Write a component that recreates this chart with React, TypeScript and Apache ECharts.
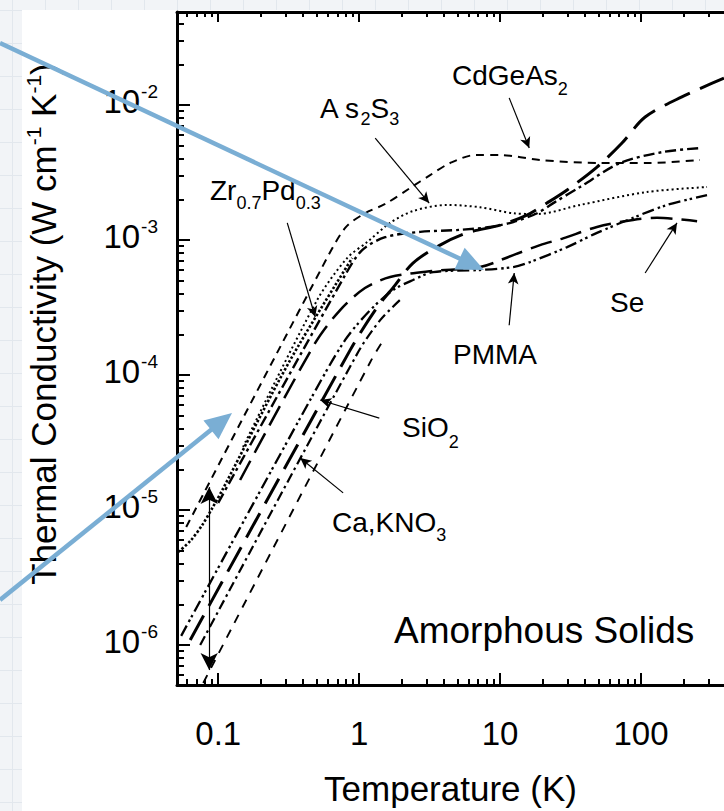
import React, { useEffect, useRef } from 'react';
import * as echarts from 'echarts';

const W = 724;
const H = 811;
const FONT = '"Liberation Sans", Arial, Helvetica, sans-serif';
const BLUE = '#7aaed4';

// Axis extents (temperature in K, conductivity in W cm^-1 K^-1)
const T_MIN = 0.051;
const T_MAX = 388;
const K_MIN = 5.06e-7;
const K_MAX = 0.0489;

const xTickValues = [0.1, 1, 10, 100];
const xTickLabels = ['0.1', '1', '10', '100'];
const yTickValues = [1e-6, 1e-5, 1e-4, 1e-3, 1e-2];
const yTickExponents = ['-6', '-5', '-4', '-3', '-2'];

// Curves: [T (K), kappa (W/cm K)]
const cdGeAs2: [number, number][] = [
  [0.0593, 7.48e-6], [0.547, 6.31e-4], [0.796, 1.23e-3], [1.10, 1.58e-3], [1.53, 1.85e-3],
  [2.30, 2.43e-3], [3.19, 3.03e-3], [4.42, 3.72e-3], [6.65, 4.26e-3], [10, 4.26e-3],
  [19.2, 3.92e-3], [51.2, 3.72e-3], [116, 3.72e-3], [262, 3.92e-3],
];
const as2S3: [number, number][] = [
  [0.150, 2.93e-5], [0.504, 3.60e-4], [0.822, 7.36e-4], [1.14, 9.66e-4], [1.66, 1.34e-3],
  [2.41, 1.64e-3], [4.21, 1.82e-3], [7.21, 1.75e-3], [12.4, 1.58e-3], [18.3, 1.56e-3],
  [36.9, 1.82e-3], [110, 2.27e-3], [294, 2.47e-3],
];
const zrPd: [number, number][] = [
  [0.0520, 4.89e-6], [0.0633, 5.89e-6], [0.0770, 7.74e-6], [0.0906, 1.03e-5], [0.107, 1.41e-5],
  [0.324, 1.29e-4], [0.892, 7.36e-4],
];
const glassA: [number, number][] = [
  [0.100, 1.13e-5], [0.796, 5.51e-4], [1.05, 8.43e-4], [1.53, 1.05e-3], [2.71, 1.15e-3],
  [5.20, 1.19e-3], [8.49, 1.25e-3], [12.4, 1.36e-3], [18.3, 1.58e-3], [24.5, 1.91e-3],
  [36.9, 2.47e-3], [71.0, 3.72e-3], [143, 4.49e-3], [262, 4.80e-3],
];
const se: [number, number][] = [
  [0.143, 1.67e-5], [0.488, 1.73e-4], [0.733, 3.03e-4], [1.10, 4.41e-4], [1.66, 5.32e-4],
  [3.29, 5.89e-4], [7.21, 6.31e-4], [12.4, 7.74e-4], [19.2, 9.18e-4], [28.0, 1.03e-3],
  [48.7, 1.25e-3], [87.7, 1.41e-3], [130, 1.46e-3], [250, 1.38e-3],
];
const siO2: [number, number][] = [
  [0.0633, 1.09e-6], [0.863, 1.53e-4], [1.30, 3.03e-4], [1.80, 4.64e-4], [2.41, 6.76e-4],
  [3.75, 9.18e-4], [5.83, 1.13e-3], [10, 1.29e-3], [15.5, 1.53e-3], [21.5, 1.88e-3],
  [29.9, 2.35e-3], [48.7, 3.47e-3], [73.3, 5.23e-3], [107, 8.15e-3], [195, 1.15e-2],
  [388, 1.58e-2],
];
const pmma: [number, number][] = [
  [0.0546, 1.17e-6], [0.449, 6.53e-5], [0.796, 1.82e-4], [1.20, 3.03e-4], [1.74, 4.26e-4],
  [2.41, 5.06e-4], [3.35, 5.79e-4], [7.21, 6.0e-4], [12.4, 6.31e-4], [16.3, 6.87e-4],
  [29.9, 8.87e-4], [48.7, 1.13e-3], [87.7, 1.46e-3], [153, 1.82e-3], [294, 2.15e-3],
];
const caKNO3: [number, number][] = [
  [0.0745, 1.0e-6], [0.984, 1.48e-4], [1.41, 2.55e-4], [1.95, 3.60e-4],
];
const glassB: [number, number][] = [
  [0.0783, 5.24e-7], [1.20, 1.25e-4], [1.53, 1.91e-4],
];

// Leader arrows (data coordinates): from -> to (arrowhead at "to")
const leaderFrom: [number, number][] = [
  [11.6, 1.13e-2], [1.30, 5.7e-3], [0.309, 1.34e-3], [11.6, 2.34e-4],
  [107, 5.7e-4], [1.39, 4.8e-5], [0.770, 1.34e-5],
];
const leaderTo: [number, number][] = [
  [16.1, 4.8e-3], [3.14, 1.88e-3], [0.488, 2.69e-4], [12.6, 5.7e-4],
  [180, 1.34e-3], [0.529, 6.53e-5], [0.382, 2.43e-5],
];
const rangeArrowT = 0.0863;
const rangeArrowK: [number, number] = [1.48e-5, 6.53e-7];

function minorValues(min: number, max: number): number[] {
  const out: number[] = [];
  for (let e = -8; e <= 3; e++) {
    for (let m = 2; m <= 9; m++) {
      const v = m * Math.pow(10, e);
      if (v > min && v < max) out.push(v);
    }
  }
  return out;
}

function blueArrow(x1: number, y1: number, x2: number, y2: number) {
  const dx = x2 - x1;
  const dy = y2 - y1;
  const len = Math.hypot(dx, dy);
  const ux = dx / len;
  const uy = dy / len;
  const hl = 27;
  const hw = 12;
  const bx = x2 - ux * hl;
  const by = y2 - uy * hl;
  return {
    type: 'group',
    silent: true,
    children: [
      { type: 'line', z: 100, shape: { x1, y1, x2: bx + ux * 3, y2: by + uy * 3 }, style: { stroke: BLUE, lineWidth: 4.5 } },
      {
        type: 'polygon',
        z: 100,
        shape: { points: [[x2, y2], [bx - uy * hw, by + ux * hw], [bx + uy * hw, by - ux * hw]] },
        style: { fill: BLUE },
      },
    ],
  };
}

function subText(x: number, y: number, text: string, size = 28, subSize = 18, drop = 13) {
  return {
    type: 'text',
    z: 50,
    silent: true,
    x,
    y,
    style: {
      text,
      fontFamily: FONT,
      fontSize: size,
      fill: '#000',
      align: 'left',
      verticalAlign: 'middle',
      rich: {
        b: { fontSize: size, fontFamily: FONT, fill: '#000' },
        s: { fontSize: subSize, fontFamily: FONT, fill: '#000', padding: [drop * 2, 0, 0, 0] },
      },
    },
  };
}

export default function App() {
  const ref = useRef<HTMLDivElement>(null);

  useEffect(() => {
    if (!ref.current) return;
    const chart = echarts.init(ref.current, null, { renderer: 'svg', width: W, height: H });

    const xMinor = minorValues(T_MIN, T_MAX);
    const yMinor = minorValues(K_MIN, K_MAX);

    const xLabel = (v: number) => {
      const i = xTickValues.findIndex((t) => Math.abs(Math.log10(t) - Math.log10(v)) < 1e-6);
      return i >= 0 ? xTickLabels[i] : '';
    };
    const yLabel = (v: number) => {
      const i = yTickValues.findIndex((t) => Math.abs(Math.log10(t) - Math.log10(v)) < 1e-6);
      return i >= 0 ? `{b|10}{s|${yTickExponents[i]}}` : '';
    };

    const black = '#000';
    const baseX = {
      type: 'log',
      logBase: 10,
      min: T_MIN,
      max: T_MAX,
      splitLine: { show: false },
      minorTick: { show: false },
      minorSplitLine: { show: false },
    };
    const baseY = {
      type: 'log',
      logBase: 10,
      min: K_MIN,
      max: K_MAX,
      splitLine: { show: false },
      minorTick: { show: false },
      minorSplitLine: { show: false },
    };

    const curveDefs = [
      { name: 'CdGeAs2', data: cdGeAs2, width: 2, dash: [8, 6] },
      { name: 'As2S3', data: as2S3, width: 2, dash: [2, 3] },
      { name: 'Zr0.7Pd0.3', data: zrPd, width: 2.6, dash: [2.5, 2] },
      { name: 'glass A', data: glassA, width: 2.4, dash: [11, 4, 3, 4] },
      { name: 'Se', data: se, width: 2.5, dash: [22, 9] },
      { name: 'SiO2', data: siO2, width: 3, dash: [28, 11] },
      { name: 'PMMA', data: pmma, width: 2.3, dash: [12, 4, 2.5, 3, 2.5, 4] },
      { name: 'Ca,KNO3', data: caKNO3, width: 2.2, dash: [10, 4, 2.5, 4] },
      { name: 'glass B', data: glassB, width: 1.9, dash: [9, 8] },
    ];

    const series: any[] = curveDefs.map((c) => ({
      type: 'line',
      name: c.name,
      data: c.data,
      xAxisIndex: 0,
      yAxisIndex: 0,
      showSymbol: false,
      symbol: 'none',
      smooth: 0.3,
      silent: true,
      lineStyle: { color: black, width: c.width, type: c.dash },
      z: 3,
    }));

    const leaderData: any[] = leaderFrom.map((f, i) => [
      { coord: f, symbol: 'none' },
      { coord: leaderTo[i], symbol: 'arrow', symbolSize: [8, 11] },
    ]);
    leaderData.push([
      { coord: [rangeArrowT, rangeArrowK[0]], symbol: 'arrow', symbolSize: [13, 17] },
      { coord: [rangeArrowT, rangeArrowK[1]], symbol: 'arrow', symbolSize: [13, 17] },
    ]);

    series.push({
      type: 'line',
      name: 'annotations',
      data: [],
      xAxisIndex: 0,
      yAxisIndex: 0,
      silent: true,
      markLine: {
        silent: true,
        animation: false,
        symbol: ['none', 'arrow'],
        lineStyle: { color: black, width: 1.2, type: 'solid' },
        label: { show: false },
        emphasis: { disabled: true },
        data: leaderData,
      },
    });

    const option: any = {
      animation: false,
      backgroundColor: 'transparent',
      grid: { left: 177, top: 12, right: 0, bottom: H - 685, containLabel: false, outerBoundsMode: 'none' },
      xAxis: [
        {
          ...baseX,
          position: 'bottom',
          axisLine: { show: true, onZero: false, lineStyle: { color: black, width: 3 } },
          axisTick: { show: true, inside: true, length: 12, lineStyle: { color: black, width: 2 }, customValues: xTickValues },
          axisLabel: {
            show: true,
            customValues: xTickValues,
            formatter: xLabel,
            margin: 32,
            fontSize: 33,
            color: black,
            fontFamily: FONT,
          },
          name: 'Temperature (K)',
          nameLocation: 'middle',
          nameGap: 86,
          nameTextStyle: { fontSize: 35, color: black, fontFamily: FONT },
        },
        {
          ...baseX,
          position: 'top',
          axisLine: { show: true, onZero: false, lineStyle: { color: black, width: 3 } },
          axisTick: { show: true, inside: true, length: 10, lineStyle: { color: black, width: 2 }, customValues: xTickValues },
          axisLabel: { show: false },
        },
        {
          ...baseX,
          position: 'bottom',
          axisLine: { show: false },
          axisTick: { show: true, inside: true, length: 6, lineStyle: { color: black, width: 2 }, customValues: xMinor },
          axisLabel: { show: false },
        },
        {
          ...baseX,
          position: 'top',
          axisLine: { show: false },
          axisTick: { show: true, inside: true, length: 5, lineStyle: { color: black, width: 2 }, customValues: xMinor },
          axisLabel: { show: false },
        },
      ],
      yAxis: [
        {
          ...baseY,
          position: 'left',
          axisLine: { show: true, onZero: false, lineStyle: { color: black, width: 3 } },
          axisTick: { show: true, inside: true, length: 13, lineStyle: { color: black, width: 2 }, customValues: yTickValues },
          axisLabel: {
            show: true,
            customValues: yTickValues,
            formatter: yLabel,
            margin: 19,
            color: black,
            fontFamily: FONT,
            rich: {
              b: { fontSize: 33, fontFamily: FONT, color: black, padding: [0, 0, 8, 0] },
              s: { fontSize: 19, fontFamily: FONT, color: black, padding: [0, 0, 27, 1] },
            },
          },
        },
        {
          ...baseY,
          position: 'left',
          axisLine: { show: false },
          axisTick: { show: true, inside: true, length: 7, lineStyle: { color: black, width: 2 }, customValues: yMinor },
          axisLabel: { show: false },
        },
      ],
      series,
      graphic: [
        {
          type: 'rect',
          z: -100,
          silent: true,
          shape: { x: 22, y: 10, width: W - 22, height: H - 10 },
          style: { fill: '#ffffff' },
        },
        {
          type: 'text',
          z: 50,
          silent: true,
          x: 43,
          y: 324,
          rotation: Math.PI / 2,
          style: {
            text: '{b|Thermal Conductivity (W cm}{s|-1}{b| K}{s|-1}{b|)}',
            fontFamily: FONT,
            fontSize: 35,
            fill: '#000',
            align: 'center',
            verticalAlign: 'middle',
            rich: {
              b: { fontSize: 35, fontFamily: FONT, fill: '#000' },
              s: { fontSize: 21, fontFamily: FONT, fill: '#000', padding: [0, 0, 20, 0] },
            },
          },
        },
        subText(452, 75, '{b|CdGeAs}{s|2}', 28, 18, 14),
        subText(320, 108, '{b|A s}{s|2}{b|S}{s|3}', 28, 18, 11),
        subText(210, 190, '{b|Zr}{s|0.7}{b|Pd}{s|0.3}', 28, 18, 13),
        subText(453, 354, '{b|PMMA}', 28),
        subText(610, 302, '{b|Se}', 28),
        subText(402, 427, '{b|SiO}{s|2}', 28, 18, 15),
        subText(332, 522, '{b|Ca,KNO}{s|3}', 28, 18, 13),
        {
          type: 'text',
          z: 50,
          silent: true,
          x: 394,
          y: 630,
          style: {
            text: 'Amorphous Solids',
            fontFamily: FONT,
            fontSize: 37,
            fill: '#000',
            align: 'left',
            verticalAlign: 'middle',
          },
        },
        blueArrow(0, 43, 484, 270),
        blueArrow(0, 600, 232, 413),
      ],
    };

    chart.setOption(option);
    return () => {
      chart.dispose();
    };
  }, []);

  return (
    <div
      style={{
        position: 'absolute',
        left: 0,
        top: 0,
        width: W,
        height: H,
        backgroundColor: '#f2f4f7',
        backgroundImage:
          'linear-gradient(#e2e7ed 1px, transparent 1px), linear-gradient(90deg, #e2e7ed 1px, transparent 1px)',
        backgroundSize: '33px 33px',
        backgroundPosition: '12px 10px',
        overflow: 'hidden',
      }}
    >
      <div ref={ref} style={{ width: W, height: H }} />
    </div>
  );
}
